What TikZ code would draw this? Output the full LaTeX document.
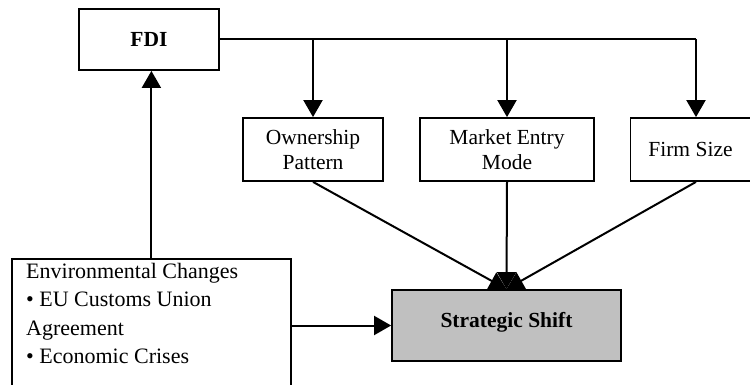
\documentclass[tikz,border=0pt]{standalone}
\usepackage{fontspec}
\setmainfont{Liberation Serif}
\usetikzlibrary{arrows.meta}
\definecolor{shiftgray}{HTML}{C0C0C0}
\tikzset{
  box/.style={draw, line width=1.8pt, inner sep=0pt, align=center, font=\fontsize{21.5}{25}\selectfont},
  conn/.style={line width=2pt},
  arr/.style={conn, -{Triangle[width=19pt,length=17pt]}},
}
\begin{document}
\begin{tikzpicture}[x=1pt,y=-1pt]
\useasboundingbox (0,0) rectangle (750,385);
\clip (0,0) rectangle (750,385);
% boxes
\node[box, minimum width=140pt, minimum height=61pt, font=\bfseries\fontsize{21.5}{25}\selectfont] (fdi) at (149,39.5) {FDI};
\node[box, minimum width=140pt, minimum height=63pt] (own) at (313,149.5) {Ownership\\Pattern};
\node[box, minimum width=174pt, minimum height=63pt] (mkt) at (507,149.5) {Market Entry\\Mode};
\node[box, minimum width=120pt, minimum height=63pt] (firm) at (690.5,149.5) {Firm Size};
\node[box, fill=shiftgray, minimum width=229pt, minimum height=71pt, text depth=12pt, font=\bfseries\fontsize{21.5}{25}\selectfont] (strat) at (506.5,325.5) {Strategic Shift};
\node[box, minimum width=279pt, minimum height=140pt, anchor=north west] (env) at (11,258) {};
\node[anchor=north west, inner sep=0pt, align=left, font=\fontsize{22}{28.5}\selectfont] (envtext) at (26,263) {Environmental Changes\\• EU Customs Union\\Agreement\\• Economic Crises};
% coordinates for the off-centre Firm Size connectors
\coordinate (firmtop) at ([xshift=5.5pt]firm.north);
\coordinate (firmbot) at ([xshift=5.5pt]firm.south);
% connectors
\draw[arr] (env.north) -- (env.north |- fdi.south);
\draw[conn] (fdi.east) -- (fdi.east -| firmtop);
\draw[arr] (fdi.east -| firmtop) -- (firmtop);
\draw[arr] (fdi.east -| own.north) -- (own.north);
\draw[arr] (fdi.east -| mkt.north) -- (mkt.north);
\draw[arr] (own.south) -- (strat.north);
\draw[arr] (firmbot) -- (strat.north);
\draw[arr] (mkt.south) -- (strat.north);
\draw[arr] (strat.west -| env.east) -- (strat.west);
\end{tikzpicture}
\end{document}
